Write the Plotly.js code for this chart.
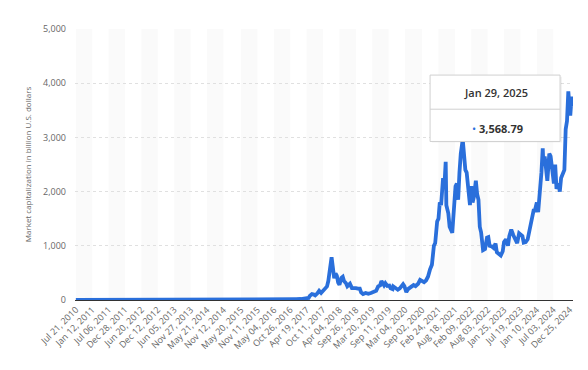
<!DOCTYPE html>
<html>
<head>
<meta charset="utf-8">
<script src="https://cdn.plot.ly/plotly-3.0.1.min.js"></script>
<style>html,body{margin:0;padding:0;background:#fff;}#chart{width:588px;height:370px;}</style>
</head>
<body>
<div id="chart"></div>
<script>
// Weekly crypto market capitalization (billion U.S. dollars)
const dates = [
"2010-07-21","2010-10-20","2011-01-12","2011-02-16","2011-04-20","2011-06-08","2011-07-06","2011-10-19","2011-12-28",
"2012-03-14","2012-06-20","2012-09-12","2012-12-12","2013-02-13","2013-04-10","2013-05-22","2013-07-10","2013-10-09",
"2013-11-27","2013-12-04","2014-01-15","2014-03-05","2014-05-21","2014-08-13","2014-11-12","2015-01-14","2015-05-20",
"2015-08-12","2015-11-11","2016-01-13","2016-05-04","2016-06-15","2016-08-10","2016-10-26","2016-12-28","2017-02-15",
"2017-03-15","2017-04-19","2017-05-10","2017-05-24","2017-06-14","2017-07-05","2017-07-19","2017-08-09","2017-08-30",
"2017-09-20","2017-10-11","2017-11-01","2017-11-22","2017-12-06","2017-12-20","2018-01-03","2018-01-10","2018-01-24",
"2018-02-07","2018-02-21","2018-03-07","2018-03-21","2018-04-04","2018-04-25","2018-05-09","2018-05-23","2018-06-13",
"2018-06-27","2018-07-25","2018-08-15","2018-09-05","2018-09-26","2018-10-17","2018-11-07","2018-11-21","2018-12-12",
"2019-01-09","2019-02-06","2019-03-06","2019-04-03","2019-05-01","2019-05-22","2019-06-12","2019-06-26","2019-07-10",
"2019-07-24","2019-08-07","2019-08-28","2019-09-18","2019-10-02","2019-10-23","2019-10-30","2019-11-20","2019-12-18",
"2020-01-08","2020-01-29","2020-02-12","2020-02-26","2020-03-11","2020-03-18","2020-04-08","2020-04-29","2020-05-13",
"2020-06-03","2020-06-24","2020-07-22","2020-08-12","2020-09-02","2020-09-23","2020-10-14","2020-11-04","2020-11-25",
"2020-12-16","2021-01-06","2021-01-20","2021-02-10","2021-02-24","2021-03-10","2021-03-24","2021-04-14","2021-04-28",
"2021-05-12","2021-05-19","2021-06-09","2021-06-23","2021-07-21","2021-08-04","2021-08-25","2021-09-08","2021-09-22",
"2021-10-06","2021-10-20","2021-11-10","2021-11-24","2021-12-08","2021-12-22","2022-01-05","2022-01-26","2022-02-09",
"2022-02-23","2022-03-09","2022-03-30","2022-04-13","2022-04-27","2022-05-11","2022-05-25","2022-06-15","2022-07-06",
"2022-07-27","2022-08-10","2022-08-24","2022-09-14","2022-10-05","2022-10-26","2022-11-09","2022-11-30","2022-12-21",
"2023-01-11","2023-01-25","2023-02-15","2023-03-08","2023-03-22","2023-04-12","2023-05-03","2023-05-24","2023-06-14",
"2023-07-05","2023-07-19","2023-08-09","2023-08-23","2023-09-13","2023-10-04","2023-10-25","2023-11-15","2023-12-06",
"2023-12-20","2024-01-10","2024-01-24","2024-02-14","2024-02-28","2024-03-13","2024-03-20","2024-04-03","2024-04-17",
"2024-05-01","2024-05-22","2024-06-05","2024-06-26","2024-07-10","2024-07-24","2024-08-07","2024-08-28","2024-09-11",
"2024-09-25","2024-10-16","2024-10-30","2024-11-13","2024-11-27","2024-12-11","2024-12-18","2025-01-01","2025-01-15",
"2025-01-22","2025-01-29"
];
const marketCap = [
0.02,0.02,0.03,0.07,0.1,0.2,0.11,0.03,0.03,
0.05,0.07,0.12,0.14,0.27,2.4,1.4,0.9,1.6,
11,14,11,8,6,7,5.4,3.3,3.5,
4.2,5.5,6.7,7.8,12,10,11.5,16,18,
22,28,38,80,110,100,85,120,170,
130,170,190,250,350,620,700,790,560,
400,490,450,320,280,410,430,350,310,
255,300,220,225,220,210,210,140,110,
130,115,130,160,170,250,270,350,320,
270,310,260,265,215,200,250,225,190,
215,255,290,255,200,145,205,230,250,
275,255,300,370,340,330,360,430,560,
650,1000,1050,1450,1500,1800,1750,2250,2100,
2550,1750,1600,1350,1240,1650,2100,2150,1850,
2350,2700,2960,2600,2400,2350,2150,1750,2100,
1800,1900,2200,1950,1850,1350,1250,920,940,
1150,1160,1000,990,960,1040,880,850,820,
900,1070,1120,1000,1180,1300,1200,1140,1050,
1230,1210,1180,1060,1070,1120,1290,1450,1650,
1650,1800,1620,2000,2350,2800,2500,2650,2300,
2200,2700,2650,2350,2150,2500,2050,2150,2000,
2250,2350,2400,3150,3300,3850,3650,3400,3750,
3600,3568.79
];
const tickDates = [
"2010-07-21","2011-01-12","2011-07-06","2011-12-28","2012-06-20","2012-12-12","2013-06-05","2013-11-27",
"2014-05-21","2014-11-12","2015-05-20","2015-11-11","2016-05-04","2016-10-26","2017-04-19","2017-10-11",
"2018-04-04","2018-09-26","2019-03-20","2019-09-11","2020-03-04","2020-09-02","2021-02-24","2021-08-18",
"2022-02-09","2022-08-03","2023-01-25","2023-07-19","2024-01-10","2024-07-03","2024-12-25"
];
const tickLabels = [
"Jul 21, 2010","Jan 12, 2011","Jul 06, 2011","Dec 28, 2011","Jun 20, 2012","Dec 12, 2012","Jun 05, 2013","Nov 27, 2013",
"May 21, 2014","Nov 12, 2014","May 20, 2015","Nov 11, 2015","May 04, 2016","Oct 26, 2016","Apr 19, 2017","Oct 11, 2017",
"Apr 04, 2018","Sep 26, 2018","Mar 20, 2019","Sep 11, 2019","Mar 04, 2020","Sep 02, 2020","Feb 24, 2021","Aug 18, 2021",
"Feb 09, 2022","Aug 03, 2022","Jan 25, 2023","Jul 19, 2023","Jan 10, 2024","Jul 03, 2024","Dec 25, 2024"
];
const yTicks = [0,1000,2000,3000,4000,5000];
const tooltipDate = "Jan 29, 2025";
const tooltipValue = "3,568.79";

// alternating background bands between tick dates
const shapes = [];
for (let i = 0; i + 1 < tickDates.length; i += 2) {
  shapes.push({type:'rect', xref:'x', yref:'paper', x0:tickDates[i], x1:tickDates[i+1], y0:0, y1:1,
    fillcolor:'#fafafa', line:{width:0}, layer:'below'});
}
// tooltip box
shapes.push({type:'rect', xref:'paper', yref:'paper', x0:0.717, x1:0.978, y0:0.581, y1:0.824,
  fillcolor:'rgba(0,0,0,0.05)', line:{width:0}, layer:'above'});
shapes.push({type:'rect', xref:'paper', yref:'paper', x0:0.713, x1:0.974, y0:0.585, y1:0.830,
  fillcolor:'#ffffff', line:{color:'#d0d0d0', width:1}, layer:'above'});
shapes.push({type:'line', xref:'paper', yref:'paper', x0:0.713, x1:0.974, y0:0.704, y1:0.704,
  line:{color:'#d0d0d0', width:1}, layer:'above'});

const annotations = [
  {xref:'paper', yref:'paper', x:0.845, y:0.767, text:tooltipDate, showarrow:false,
   font:{family:'Open Sans, sans-serif', size:11, color:'#333', weight:600}, xanchor:'center', yanchor:'middle'},
  {xref:'paper', yref:'paper', x:0.848, y:0.632, text:'<span style="color:#2a6fdb">•</span> <b>'+tooltipValue+'</b>', showarrow:false,
   font:{family:'Open Sans, sans-serif', size:11, color:'#333'}, xanchor:'center', yanchor:'middle'}
];

const trace = {
  x: dates, y: marketCap, type:'scatter', mode:'lines',
  line:{color:'#2a6fdb', width:3.8, shape:'linear'}, hoverinfo:'skip', cliponaxis:false
};

const layout = {
  width:588, height:370,
  margin:{l:75, r:15, t:29, b:70, pad:0},
  paper_bgcolor:'#ffffff', plot_bgcolor:'#ffffff',
  showlegend:false,
  font:{family:'Open Sans, sans-serif', color:'#666'},
  xaxis:{
    type:'date', range:['2010-07-12','2025-01-30'],
    tickmode:'array', tickvals:tickDates, ticktext:tickLabels, tickangle:-45,
    tickfont:{size:9, color:'#666'}, showgrid:false, zeroline:false,
    showline:true, linecolor:'#333', linewidth:1, ticks:'', fixedrange:true
  },
  yaxis:{
    range:[0,5000], tickmode:'array', tickvals:yTicks, tickformat:',',
    tickfont:{size:9, color:'#666'}, showgrid:true, gridcolor:'#e0e0e0', griddash:'dot', gridwidth:1,
    zeroline:false, showline:false, ticks:'', ticklabelstandoff:8,
    title:{text:'Market capitalization in billion U.S. dollars', font:{size:8, color:'#666'}, standoff:10},
    fixedrange:true
  },
  shapes: shapes,
  annotations: annotations
};

Plotly.newPlot('chart', [trace], layout, {displayModeBar:false, staticPlot:true});
</script>
</body>
</html>
